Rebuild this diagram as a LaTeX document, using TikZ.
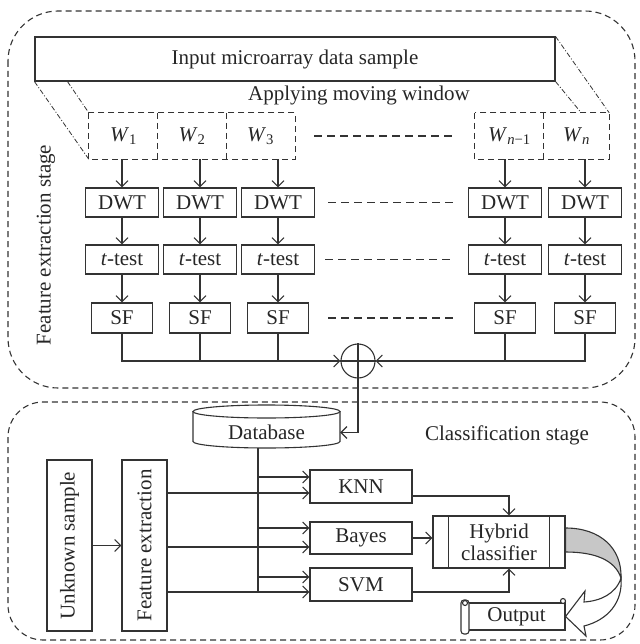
\documentclass[tikz,border=0pt]{standalone}
\usepackage{fontspec}
\setmainfont{Liberation Serif}
\usetikzlibrary{arrows.meta,calc}
\newcommand\myfs{\fontsize{21}{22}\selectfont}
\begin{document}
\begin{tikzpicture}[x=1pt,y=-1pt,
  every node/.style={font=\myfs, text=black!85},
  ln/.style={line width=1.1pt, draw=black!80},
  bx/.style={ln, draw, inner sep=0pt, align=center},
  wbx/.style={inner sep=0pt},
  arr/.style={ln, -{Straight Barb[length=6pt,width=12pt,line width=1.1pt]}},
  dsh/.style={ln, dash pattern=on 6pt off 4pt},
  mid/.style={ln, dash pattern=on 8pt off 5pt},
  dd/.style={line width=0.8pt, draw=black!80, dash pattern=on 5pt off 2pt on 1pt off 2pt},
]
\useasboundingbox (0,0) rectangle (639,644);

% stage frames
\draw[dsh, rounded corners=50pt] (8,11) rectangle (635,388);
\draw[dsh, rounded corners=35pt] (8,402) rectangle (635,640);

\node[rotate=90] (fes) at (46,245) {Feature extraction stage};
\node (cls) at (507,435) {Classification stage};

% input
\node[bx, minimum width=520pt, minimum height=44pt] (inp) at (295,59) {Input microarray data sample};
\node (amw) at (359,95) {Applying moving window};

% windows
\node[wbx, minimum width=69pt, minimum height=46pt] (w1) at (123.5,136) {\textit{W}\textsubscript{1}};
\node[wbx, minimum width=68pt, minimum height=46pt] (w2) at (192,136) {\textit{W}\textsubscript{2}};
\node[wbx, minimum width=69pt, minimum height=46pt] (w3) at (260.5,136) {\textit{W}\textsubscript{3}};
\node[wbx, minimum width=69pt, minimum height=46pt] (w4) at (509.5,136) {\textit{W}\textsubscript{\textit{n}−1}};
\node[wbx, minimum width=65pt, minimum height=46pt] (w5) at (576.5,136) {\textit{W}\textsubscript{\textit{n}}};
\draw[dsh] (w1.north west) rectangle (w3.south east);
\draw[dsh] (w2.north west) -- (w2.south west);
\draw[dsh] (w2.north east) -- (w2.south east);
\draw[dsh] (w4.north west) rectangle (w5.south east);
\draw[dsh] (w5.north west) -- (w5.south west);
\draw[mid] ([xshift=19pt]w3.east) -- ([xshift=-22pt]w4.west);

\draw[dd] (inp.south west) -- (w1.south west);
\draw[dd] ([xshift=33pt]inp.south west) -- (w1.north west);
\draw[dd] (inp.north east) -- (w5.north east);
\draw[dd] (inp.south east) -- ([xshift=-28pt]w5.north east);

% DWT row
\foreach \i/\x in {1/122,2/200,3/278,4/505,5/585}{
  \node[bx, minimum width=73pt, minimum height=29pt] (d\i) at (\x,202.5) {DWT};
  \node[bx, minimum width=73pt, minimum height=29pt] (t\i) at (\x,259.5) {\textit{t}-test};
  \node[bx, minimum width=61pt, minimum height=30pt] (s\i) at (\x,318) {SF};
  \draw[arr] (w\i.south -| d\i.north) -- (d\i.north);
  \draw[arr] (d\i.south) -- (t\i.north);
  \draw[arr] (t\i.south) -- (s\i.north);
}
\draw[mid] ([xshift=13pt]d3.east) -- ([xshift=-14pt]d4.west);
\draw[mid] ([xshift=10pt]t3.east) -- ([xshift=-16pt]t4.west);
\draw[mid] ([xshift=19pt]s3.east) -- ([xshift=-21pt]s4.west);

% summation
\node[ln, draw, circle, minimum size=34pt, inner sep=0pt] (sum) at (358,361) {};
\draw[ln] (sum.north) -- (sum.south) (sum.west) -- (sum.east);
\draw[arr] (s1.south) |- (sum.west);
\draw[ln] (s2.south) -- (s2.south |- sum.west);
\draw[ln] (s3.south) -- (s3.south |- sum.west);
\draw[arr] (s5.south) |- (sum.east);
\draw[ln] (s4.south) -- (s4.south |- sum.east);

% database
\draw[ln] (193,411.5) -- (193,441.5) arc[start angle=180, end angle=0, x radius=73.5, y radius=6.5] -- (340,411.5);
\draw[ln] (266.5,411.5) ellipse[x radius=73.5, y radius=6.5];
\node[inner sep=0pt, minimum width=147pt, minimum height=31pt] (db) at (266.5,432.5) {Database};
\draw[arr] (sum.south) |- (db.east);
\coordinate (dbv) at ([xshift=-8.5pt]db.south);

% classification
\node[bx, minimum width=45pt, minimum height=171pt] (us) at (69.5,545.5) {\rotatebox{90}{Unknown sample}};
\node[bx, minimum width=45pt, minimum height=171pt] (fe) at (144.5,545.5) {\rotatebox{90}{Feature extraction}};
\draw[arr] (us.east) -- (fe.west);

\node[bx, minimum width=102pt, minimum height=33pt] (knn) at (361,486.5) {KNN};
\node[bx, minimum width=102pt, minimum height=32pt] (bay) at (361,538) {Bayes};
\node[bx, minimum width=102pt, minimum height=33pt] (svm) at (361,584.5) {SVM};

\coordinate (k1) at ([yshift=9.5pt]knn.west);
\coordinate (k2) at ([yshift=-6.5pt]knn.west);
\coordinate (b1) at ([yshift=10pt]bay.west);
\coordinate (b2) at ([yshift=-9pt]bay.west);
\coordinate (v1) at ([yshift=7.5pt]svm.west);
\coordinate (v2) at ([yshift=-7.5pt]svm.west);
\draw[ln] (dbv) -- (dbv |- v2);
\draw[arr] (dbv |- k1) -- (k1);
\draw[arr] (dbv |- b1) -- (b1);
\draw[arr] (dbv |- v1) -- (v1);
\draw[arr] (fe.east |- k2) -- (k2);
\draw[arr] (fe.east |- b2) -- (b2);
\draw[arr] (fe.east |- v2) -- (v2);

\node[bx, minimum width=132pt, minimum height=52pt] (hyb) at (499,542) {Hybrid\\classifier};
\draw[ln] ([xshift=16pt]hyb.north west) -- ([xshift=16pt]hyb.south west);
\draw[ln] ([xshift=-16pt]hyb.north east) -- ([xshift=-16pt]hyb.south east);
\draw[arr] ([yshift=-9.5pt]knn.east) -| ([xshift=10pt]hyb.north);
\draw[arr] (bay.east) -- (bay.east -| hyb.west);
\draw[arr] ([yshift=-7.5pt]svm.east) -| ([xshift=10pt]hyb.south);

% output scroll
\node[bx, minimum width=97pt, minimum height=27pt] (out) at (516.5,616.5) {Output};
\draw[ln, fill=white, rounded corners=3pt] (461,600) rectangle (469,634);
\draw[ln, fill=white] (465,603) circle (2.5);
\draw[ln, fill=white] (563,601) circle (2.5);

% curved block arrow
\draw[ln, fill=black!22] (hyb.east |- 0,528) .. controls (600,528) and (622,548) .. (621,578)
   .. controls (615,560) and (595,552) .. (hyb.east |- 0,552) -- cycle;
\draw[ln, fill=white] (621,578) .. controls (623,602) and (608,620) .. (584,626)
   -- (586,636) -- (out.east) -- (585,591) -- (584,602)
   .. controls (600,601) and (616,594) .. (621,578) -- cycle;
\end{tikzpicture}
\end{document}
